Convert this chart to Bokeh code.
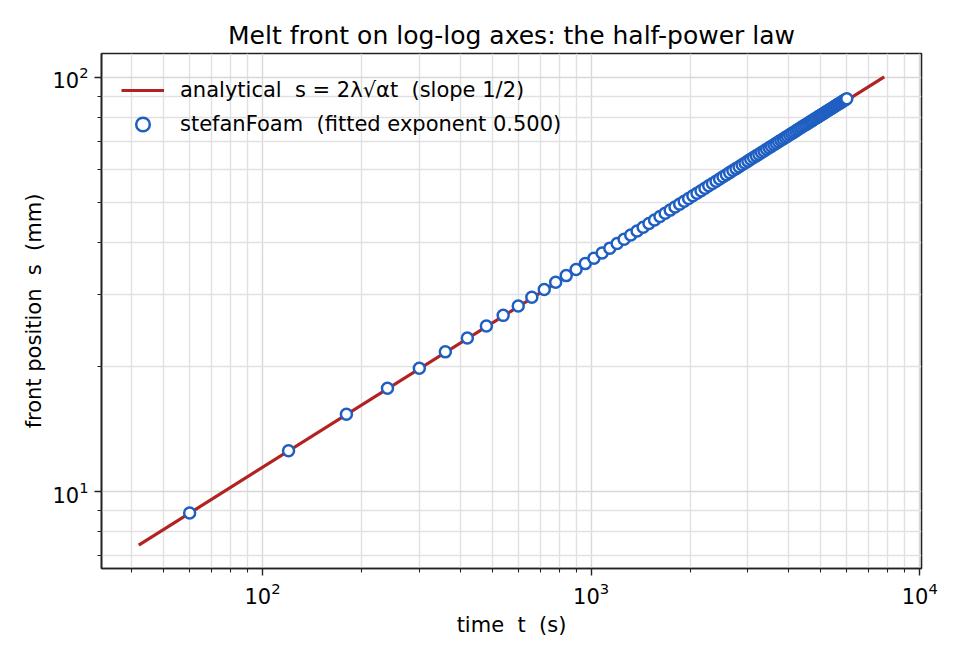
from bokeh.plotting import figure
from bokeh.models import FixedTicker, LogTickFormatter
from bokeh.embed import file_html
from bokeh.resources import INLINE

FONT = "DejaVu Sans"
SP2 = "\u00a0 "  # a double space that svg text will not collapse

# analytical s = 2*lambda*sqrt(alpha*t): a straight line on log-log axes,
# so its two end points are enough
line_t = [42, 7800]
line_s = [7.43, 100.3]

# stefanFoam front position, one sample every 60 s
sim_t = [60, 120, 180, 240, 300, 360, 420, 480, 540, 600,
         660, 720, 780, 840, 900, 960, 1020, 1080, 1140, 1200,
         1260, 1320, 1380, 1440, 1500, 1560, 1620, 1680, 1740, 1800,
         1860, 1920, 1980, 2040, 2100, 2160, 2220, 2280, 2340, 2400,
         2460, 2520, 2580, 2640, 2700, 2760, 2820, 2880, 2940, 3000,
         3060, 3120, 3180, 3240, 3300, 3360, 3420, 3480, 3540, 3600,
         3660, 3720, 3780, 3840, 3900, 3960, 4020, 4080, 4140, 4200,
         4260, 4320, 4380, 4440, 4500, 4560, 4620, 4680, 4740, 4800,
         4860, 4920, 4980, 5040, 5100, 5160, 5220, 5280, 5340, 5400,
         5460, 5520, 5580, 5640, 5700, 5760, 5820, 5880, 5940, 6000]
sim_s = [8.88, 12.56, 15.38, 17.76, 19.86, 21.75, 23.49, 25.12, 26.64, 28.08,
         29.45, 30.76, 32.02, 33.23, 34.39, 35.52, 36.61, 37.67, 38.71, 39.71,
         40.69, 41.65, 42.59, 43.50, 44.40, 45.28, 46.14, 46.99, 47.82, 48.64,
         49.44, 50.23, 51.01, 51.78, 52.53, 53.28, 54.01, 54.74, 55.46, 56.16,
         56.86, 57.55, 58.23, 58.90, 59.57, 60.23, 60.88, 61.52, 62.16, 62.79,
         63.42, 64.03, 64.65, 65.25, 65.86, 66.45, 67.04, 67.63, 68.21, 68.78,
         69.36, 69.92, 70.48, 71.04, 71.59, 72.14, 72.69, 73.23, 73.76, 74.29,
         74.82, 75.35, 75.87, 76.39, 76.90, 77.41, 77.92, 78.43, 78.93, 79.42,
         79.92, 80.41, 80.90, 81.39, 81.87, 82.35, 82.83, 83.30, 83.77, 84.24,
         84.71, 85.17, 85.64, 86.09, 86.55, 87.01, 87.46, 87.91, 88.35, 88.80]

x_major = [100, 1000, 10000]
x_minor = [40, 50, 60, 70, 80, 90,
           200, 300, 400, 500, 600, 700, 800, 900,
           2000, 3000, 4000, 5000, 6000, 7000, 8000, 9000]
y_major = [10, 100]
y_minor = [7, 8, 9, 20, 30, 40, 50, 60, 70, 80, 90]

p = figure(width=944, height=644, x_axis_type="log", y_axis_type="log",
           x_range=(32.35, 10127), y_range=(6.524, 114.2),
           title="Melt front on log-log axes: the half-power law",
           output_backend="svg", toolbar_location=None,
           min_border_left=101, min_border_right=23,
           min_border_top=53, min_border_bottom=76)

p.line(line_t, line_s, line_color="#b22222", line_width=3.2,
       legend_label="analytical" + SP2 + "s = 2λ√αt" + SP2 + "(slope 1/2)")
p.scatter(sim_t, sim_s, size=11, marker="circle", fill_color="white",
          line_color="#1f5fc2", line_width=2.5,
          legend_label="stefanFoam" + SP2 + "(fitted exponent 0.500)")

xt = FixedTicker(ticks=x_major, minor_ticks=x_minor)
yt = FixedTicker(ticks=y_major, minor_ticks=y_minor)
p.xaxis.ticker = xt
p.yaxis.ticker = yt
p.xgrid.ticker = xt
p.ygrid.ticker = yt
p.xaxis.formatter = LogTickFormatter()
p.yaxis.formatter = LogTickFormatter()

for g in (p.xgrid, p.ygrid):
    g.grid_line_color = "#d8d8d8"
    g.grid_line_width = 1.4
    g.minor_grid_line_color = "#e1e1e1"
    g.minor_grid_line_width = 1.4

p.xaxis.axis_label = "time" + SP2 + "t" + SP2 + "(s)"
p.yaxis.axis_label = "front position" + SP2 + "s" + SP2 + "(mm)"
p.axis.axis_label_text_font = FONT
p.axis.axis_label_text_font_size = "21px"
p.axis.axis_label_text_font_style = "normal"
p.axis.axis_label_text_color = "black"
p.xaxis.axis_label_standoff = 6
p.yaxis.axis_label_standoff = 3
p.axis.major_label_text_font = FONT
p.axis.major_label_text_font_size = "21px"
p.axis.major_label_text_color = "black"
p.axis.major_label_standoff = 6
p.axis.axis_line_color = "#222222"
p.axis.axis_line_width = 1.6
p.axis.major_tick_line_color = "#222222"
p.axis.minor_tick_line_color = "#222222"
p.axis.major_tick_line_width = 1.4
p.axis.minor_tick_line_width = 1.1
p.axis.major_tick_in = 0
p.axis.major_tick_out = 7
p.axis.minor_tick_in = 0
p.axis.minor_tick_out = 4

p.outline_line_color = "#222222"
p.outline_line_width = 1.6
p.outline_line_alpha = 1

p.title.text_font = FONT
p.title.text_font_size = "25px"
p.title.text_font_style = "normal"
p.title.text_color = "black"
p.title.align = "center"
p.title.standoff = 8

p.legend.location = "top_left"
p.legend.border_line_color = None
p.legend.background_fill_alpha = 0
p.legend.label_text_font = FONT
p.legend.label_text_font_size = "21px"
p.legend.label_text_color = "black"
p.legend.glyph_width = 43
p.legend.glyph_height = 34
p.legend.label_height = 34
p.legend.spacing = 0
p.legend.label_standoff = 16
p.legend.padding = 10
p.legend.margin = 20

open("out.html", "w").write(file_html(p, INLINE))
